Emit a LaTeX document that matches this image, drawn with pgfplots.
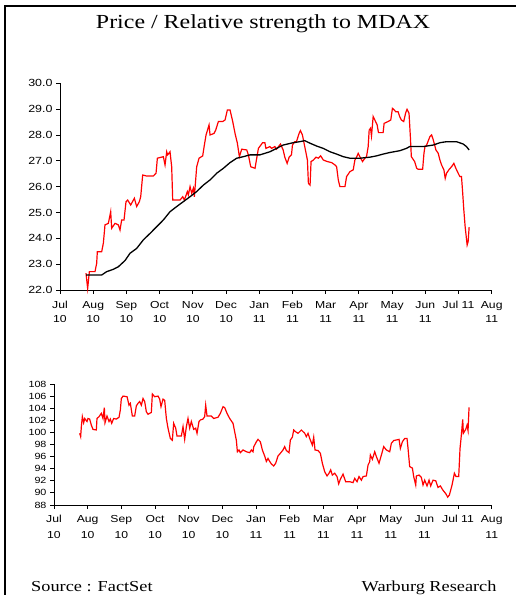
\documentclass[border=0pt]{standalone}
\usepackage{fontspec}
\setmainfont{Liberation Serif}[FakeStretch=1.2]
\setsansfont{Liberation Sans}[FakeStretch=1.2]
\usepackage{pgfplots}
\pgfplotsset{compat=1.18}
\definecolor{pred}{RGB}{255,0,0}
\pgfplotsset{
  chartbase/.style={
    scale only axis,
    axis x line=bottom, axis y line=left,
    axis line style={-, line width=0.8bp, black},
    tick align=outside,
    major tick length=4bp,
    tick style={line width=0.8bp, black},
    xmin=0, xmax=13,
    xtick={0,...,13},
    xticklabels={{Jul\\10},{Aug\\10},{Sep\\10},{Oct\\10},{Nov\\10},{Dec\\10},{Jan\\11},{Feb\\11},{Mar\\11},{Apr\\11},{May\\11},{Jun\\11},{Jul 11},{Aug\\11}},
    /pgf/number format/assume math mode=true,
    clip=false,
  }
}
\begin{document}
\begin{tikzpicture}[x=1bp,y=1bp]
\useasboundingbox (0,0) rectangle (516,595);
\draw[line width=2bp] (5,-2) -- (5,589) -- (518,589);
\node[anchor=base, inner sep=0, font=\fontsize{20}{24}\selectfont] at (263,566.7) {Price / Relative strength to MDAX};
\node[anchor=base west, inner sep=0, font=\fontsize{15.3}{18}\selectfont] at (31,3.8) {Source : FactSet};
\node[anchor=base east, inner sep=0, font=\fontsize{15.3}{18}\selectfont] at (496.7,3.8) {Warburg Research};

% ---------------- top: price ----------------
\begin{axis}[chartbase,
  at={(60bp,305bp)}, anchor=south west,
  width=431.7bp, height=206.7bp,
  ymin=22, ymax=30, ytick={22,...,30},
  yticklabel style={font=\sffamily\fontsize{10.4}{12}\selectfont, /pgf/number format/.cd, fixed, fixed zerofill, precision=1},
  xticklabel style={font=\sffamily\fontsize{10.2}{14}\selectfont, align=center, yshift=-4bp},
]
\addplot[pred, line width=1.2bp, mark=none] coordinates {
(0.783,22.65)(0.833,22.06)(0.884,22.71)(1.054,22.71)(1.104,23.03)(1.124,23.48)(1.255,23.48)(1.305,23.81)(1.355,24.52)(1.456,24.58)(1.526,25.03)(1.556,24.39)(1.657,24.58)(1.757,24.52)(1.807,24.32)(1.857,24.71)(1.928,24.71)(1.988,25.42)(2.038,25.48)(2.129,25.29)(2.239,25.55)(2.309,25.23)(2.390,25.42)(2.430,25.61)(2.490,26.45)(2.610,26.41)(2.811,26.41)(2.892,26.52)(2.932,27.10)(3.112,27.16)(3.163,26.84)(3.213,27.35)(3.243,27.23)(3.313,27.35)(3.363,26.77)(3.394,25.48)(3.614,25.48)(3.695,25.61)(3.745,25.48)(3.835,25.81)(3.865,25.68)(3.916,26.00)(3.966,25.74)(4.016,25.94)(4.046,25.61)(4.116,26.77)(4.187,27.10)(4.297,27.19)(4.347,27.61)(4.398,28.00)(4.488,28.39)(4.518,28.00)(4.639,28.06)(4.689,28.19)(4.769,28.52)(4.900,28.52)(4.970,28.58)(5.040,28.97)(5.120,28.97)(5.201,28.52)(5.271,28.06)(5.341,27.68)(5.402,27.16)(5.472,27.45)(5.622,27.42)(5.673,27.23)(5.743,26.77)(5.873,26.71)(5.924,27.10)(5.974,27.48)
(6.10,27.70)(6.17,27.70)(6.20,27.48)(6.32,27.55)(6.37,27.48)(6.47,27.55)(6.52,27.45)(6.64,27.65)(6.72,27.42)(6.77,27.14)(6.84,26.90)(6.90,27.14)(6.97,27.23)(7.00,27.61)(7.07,27.74)(7.12,27.74)(7.20,28.06)(7.24,28.17)(7.30,28.00)(7.34,27.74)(7.41,27.29)(7.45,27.03)(7.48,26.13)(7.53,26.06)(7.56,26.97)(7.63,27.03)(7.71,27.14)(7.78,27.10)(7.85,27.19)(7.93,27.03)(8.05,26.97)(8.18,26.93)(8.28,26.84)(8.33,26.77)(8.38,26.26)(8.43,26.00)(8.58,26.00)(8.63,26.39)(8.73,26.58)(8.83,26.65)(8.88,27.03)(8.93,27.14)(8.98,27.29)(9.03,27.16)(9.11,26.97)(9.18,27.10)(9.23,27.16)(9.28,27.55)(9.31,28.19)(9.35,28.26)(9.38,27.96)(9.43,28.71)(9.48,28.58)(9.55,28.39)(9.59,28.09)(9.73,28.09)(9.76,28.45)(9.88,28.52)(9.96,28.58)(10.01,29.03)(10.05,28.99)(10.11,28.90)(10.18,28.90)(10.23,28.71)(10.28,28.58)(10.35,28.52)(10.41,28.86)(10.45,28.99)(10.51,28.84)(10.55,27.94)(10.58,27.16)(10.68,26.97)(10.74,26.71)(10.79,26.67)(10.92,26.67)(10.96,27.29)(10.99,27.55)(11.04,27.61)(11.14,27.94)(11.19,28.00)(11.24,27.81)(11.32,27.42)(11.39,27.29)(11.44,27.03)(11.49,26.84)(11.56,26.65)(11.60,26.32)(11.64,26.52)(11.72,26.67)(11.79,26.77)(11.86,26.90)(11.92,26.71)(11.99,26.52)(12.04,26.39)(12.09,26.39)(12.12,25.87)(12.16,25.10)(12.20,24.45)(12.26,23.74)(12.29,23.87)(12.32,24.43)
};
\addplot[black, line width=1.3bp, mark=none] coordinates {
(0.783,22.58)(1.255,22.58)(1.406,22.71)(1.606,22.80)(1.757,22.90)(1.958,23.14)(2.108,23.42)(2.309,23.61)(2.510,23.94)(2.711,24.19)(2.912,24.45)(3.112,24.71)(3.313,25.03)(3.514,25.23)(3.715,25.42)(3.916,25.61)(4.116,25.81)(4.317,26.06)(4.518,26.26)(4.719,26.52)(4.920,26.71)(5.120,26.93)(5.321,27.10)(5.522,27.16)(5.723,27.23)
(6.02,27.23)(6.32,27.35)(6.52,27.48)(6.72,27.61)(7.02,27.70)(7.22,27.74)(7.37,27.78)(7.53,27.68)(7.73,27.57)(7.93,27.48)(8.13,27.35)(8.33,27.26)(8.53,27.16)(8.73,27.10)(9.03,27.10)(9.33,27.14)(9.53,27.19)(9.73,27.26)(9.93,27.32)(10.23,27.39)(10.43,27.48)(10.53,27.55)(10.94,27.55)(11.24,27.61)(11.44,27.70)(11.64,27.74)(11.94,27.74)(12.14,27.65)(12.24,27.55)(12.32,27.42)
};
\end{axis}

% ---------------- bottom: relative strength ----------------
\begin{axis}[chartbase,
  at={(54bp,90bp)}, anchor=south west,
  width=437.7bp, height=121bp,
  ymin=88, ymax=108, ytick={88,90,...,108},
  yticklabel style={font=\sffamily\fontsize{9}{10}\selectfont},
  xticklabel style={font=\sffamily\fontsize{10.2}{15.7}\selectfont, align=center, yshift=-3bp},
]
\addplot[pred, line width=1.2bp, mark=none] coordinates {
(0.762,99.85)(0.792,99.3)(0.812,100.95)(0.842,102.6)(0.881,101.6)(0.911,102.3)(0.980,101.8)(1.010,102.3)(1.059,102.2)(1.109,101.2)(1.158,100.5)(1.257,100.4)(1.277,102.3)(1.337,102.6)(1.406,103.15)(1.455,102.3)(1.495,104.1)(1.515,101.6)(1.574,102.7)(1.634,101.8)(1.673,102.2)(1.713,101.5)(1.772,102.3)(1.851,102.2)(1.931,102.5)(1.970,103.7)(2.0,105.6)(2.05,106.0)(2.17,105.9)(2.228,104.5)(2.267,104.8)(2.327,102.7)(2.396,102.7)(2.446,104.4)(2.495,104.8)(2.545,105.1)(2.594,104.5)(2.644,105.6)(2.693,105.1)(2.743,103.4)(2.792,103.0)(2.891,103.3)(2.921,106.35)(2.990,105.9)(3.089,106.0)(3.139,105.5)(3.178,104.25)(3.238,105.5)(3.287,105.3)(3.337,102.3)(3.386,100.7)(3.455,99.0)(3.515,98.7)(3.554,101.5)(3.614,100.7)(3.653,99.4)(3.782,99.4)(3.832,100.95)(3.881,98.85)(3.931,100.95)(3.980,102.3)(4.030,100.7)(4.079,101.8)(4.149,100.5)(4.208,100.7)(4.248,99.85)(4.307,101.8)(4.347,102.05)(4.426,102.2)(4.475,102.6)(4.505,104.5)(4.545,102.7)(4.673,102.7)(4.743,102.3)(4.871,102.5)(4.941,103.15)(5.020,104.25)(5.069,104.1)(5.139,103.15)(5.218,102.3)(5.317,101.5)(5.366,100.1)(5.416,98.7)(5.446,96.8)(5.495,97.1)(5.535,96.65)(5.614,97.1)(5.713,96.8)(5.812,96.65)(5.861,97.1)(5.911,96.8)(5.931,97.6)(6.010,98.45)(6.059,98.85)(6.129,98.45)(6.188,97.1)(6.257,96.1)(6.307,95.2)(6.356,95.7)(6.406,95.2)(6.455,94.8)(6.525,94.45)(6.584,94.9)(6.653,96.1)(6.723,96.55)(6.802,97.1)(6.851,97.65)(6.901,97.0)(6.980,96.65)(7.020,98.75)(7.079,99.2)(7.119,100.4)(7.178,100.1)(7.248,99.85)(7.347,100.4)(7.446,99.85)(7.495,99.3)(7.545,99.85)(7.594,99.0)(7.673,97.9)(7.713,99.2)(7.752,97.1)(7.842,97.0)(7.911,96.55)(7.970,94.9)(8.040,93.5)(8.109,92.8)(8.168,93.25)(8.218,93.8)(8.267,92.95)(8.337,93.25)(8.406,92.7)(8.455,91.5)(8.505,92.25)(8.584,93.1)(8.663,91.85)(8.782,91.85)(8.881,91.7)(8.931,92.4)(9.0,91.85)(9.059,92.7)(9.129,92.1)(9.178,92.7)(9.277,92.8)(9.327,94.6)(9.376,95.15)(9.396,96.25)(9.455,95.55)(9.525,96.8)(9.574,96.0)(9.653,94.9)(9.723,96.25)(9.792,97.65)(9.871,97.1)(9.970,96.8)(10.020,98.2)(10.089,98.65)(10.168,98.75)(10.248,98.85)(10.287,97.35)(10.347,98.45)(10.416,99.0)(10.485,99.0)(10.515,97.35)(10.564,94.35)(10.644,94.1)(10.683,92.7)(10.743,91.3)(10.762,92.8)(10.842,92.95)(10.911,92.55)(10.960,91.3)(11.010,92.1)(11.079,91.15)(11.139,92.1)(11.188,91.15)(11.257,92.1)(11.337,92.0)(11.406,90.9)(11.475,91.15)(11.545,90.5)(11.644,89.8)(11.693,89.3)(11.743,89.65)(11.822,91.3)(11.891,93.25)(11.941,92.7)(12.020,92.7)(12.059,97.35)(12.089,99.0)(12.139,102.15)(12.158,99.85)(12.228,100.5)(12.267,101.2)(12.297,100.3)(12.327,104.15)
};
\end{axis}
\end{tikzpicture}
\end{document}
